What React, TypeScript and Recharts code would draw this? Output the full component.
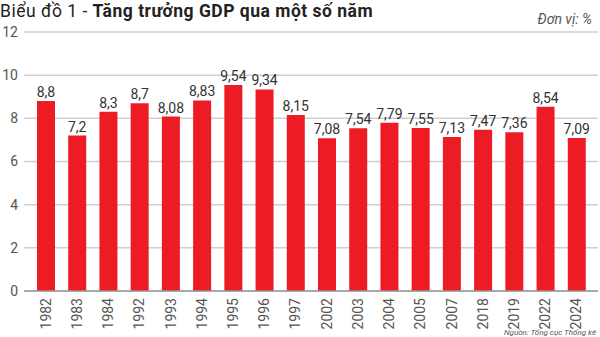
import React from "react";
import { BarChart, Bar, XAxis, YAxis, CartesianGrid, LabelList } from "recharts";

const years = ["1982", "1983", "1984", "1992", "1993", "1994", "1995", "1996", "1997", "2002", "2003", "2004", "2005", "2007", "2018", "2019", "2022", "2024"];
const growth = [8.8, 7.2, 8.3, 8.7, 8.08, 8.83, 9.54, 9.34, 8.15, 7.08, 7.54, 7.79, 7.55, 7.13, 7.47, 7.36, 8.54, 7.09];
const yTicks = [0, 2, 4, 6, 8, 10, 12];

const data = years.map((y, i) => ({ year: y, value: growth[i] }));

const FONT = "Roboto, 'Liberation Sans', sans-serif";

const fmt = (v: any) => String(v).replace(".", ",");

const XTick = (props: any) => {
  const { x, y, payload } = props;
  return (
    <text
      x={x}
      y={y}
      transform={`rotate(-90 ${x} ${y})`}
      textAnchor="end"
      dominantBaseline="central"
      fontSize={14}
      fill="#555"
      fontFamily={FONT}
    >
      {payload.value}
    </text>
  );
};

export default function App() {
  return (
    <div style={{ position: "absolute", left: 0, top: 0, width: 600, height: 337, background: "#fff", overflow: "hidden" }}>
      <div
        style={{
          position: "absolute",
          left: 0,
          top: 1,
          fontFamily: FONT,
          fontSize: 17.5,
          lineHeight: "20px",
          letterSpacing: "0.5px",
          color: "#222",
          whiteSpace: "nowrap",
        }}
      >
        Biểu đồ 1 - <b>Tăng trưởng GDP qua một số năm</b>
      </div>
      <div
        style={{
          position: "absolute",
          right: 8,
          top: 11,
          fontFamily: FONT,
          fontSize: 14,
          lineHeight: "17px",
          fontStyle: "italic",
          color: "#555",
        }}
      >
        Đơn vị: %
      </div>
      <div
        style={{
          position: "absolute",
          right: 4,
          top: 328,
          fontFamily: FONT,
          fontSize: 8,
          lineHeight: "9px",
          fontStyle: "italic",
          color: "#555",
        }}
      >
        Nguồn: Tổng cục Thống kê
      </div>
      <BarChart
        width={600}
        height={337}
        data={data}
        margin={{ top: 32, right: 2, bottom: 0, left: 0 }}
        style={{ position: "absolute", left: 0, top: 0 }}
      >
        <CartesianGrid vertical={false} stroke="#cfcfcf" strokeWidth={1.5} />
        <XAxis
          dataKey="year"
          interval={0}
          tickLine={false}
          axisLine={{ stroke: "#999", strokeWidth: 1.5 }}
          tick={<XTick />}
          height={46}
          padding={{ left: 6, right: 6 }}
          tickMargin={1}
        />
        <YAxis
          domain={[0, 12]}
          ticks={yTicks}
          width={24}
          tickLine={false}
          axisLine={false}
          tick={{ fontSize: 14, fill: "#555", fontFamily: FONT }}
          tickMargin={0}
        />
        <Bar dataKey="value" fill="#ed1c24" barSize={18} isAnimationActive={false}>
          <LabelList
            dataKey="value"
            position="top"
            offset={4}
            formatter={fmt}
            style={{ fontSize: 14, fill: "#333", fontFamily: FONT }}
          />
        </Bar>
      </BarChart>
    </div>
  );
}
